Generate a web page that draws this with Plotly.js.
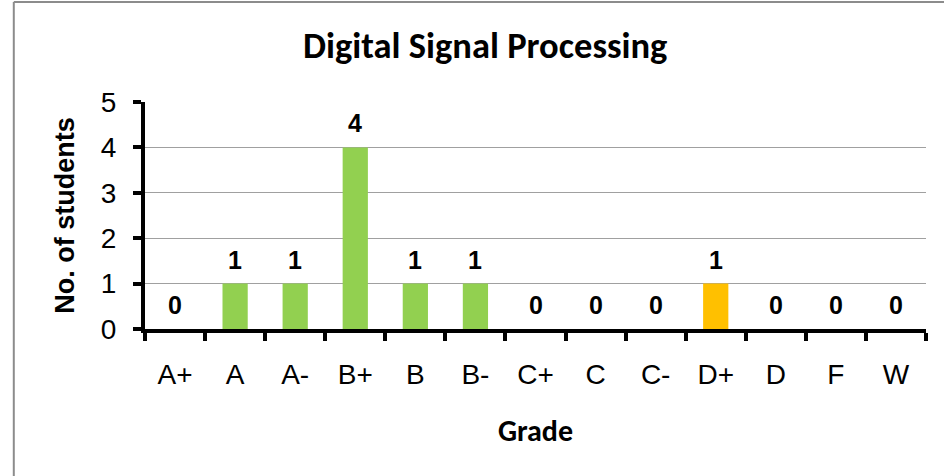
<!DOCTYPE html>
<html>
<head>
<meta charset="utf-8">
<script src="https://cdn.plot.ly/plotly-3.0.1.min.js"></script>
<style>html,body{margin:0;padding:0;background:#fff;}#chart{width:944px;height:476px;}</style>
</head>
<body>
<div id="chart"></div>
<script>
const grades = ["A+","A","A-","B+","B","B-","C+","C","C-","D+","D","F","W"];
const students = [0,1,1,4,1,1,0,0,0,1,0,0,0];
const barColors = ["#92D050","#92D050","#92D050","#92D050","#92D050","#92D050","#92D050","#92D050","#92D050","#FFC000","#92D050","#92D050","#92D050"];
const yTicks = [0,1,2,3,4,5];

const ARIAL = "Arial, Liberation Sans, sans-serif";
const CALIBRI = "Carlito, Lato, sans-serif";

const trace = {
  type: "bar",
  x: grades,
  y: students,
  marker: {color: barColors},
  hoverinfo: "x+y"
};

const labels = grades.map((g, i) => ({
  x: g, y: students[i], xref: "x", yref: "y",
  text: "<b>" + students[i] + "</b>",
  showarrow: false, yanchor: "middle", yshift: 24,
  font: {family: ARIAL, size: 25, color: "#000"}
}));

const layout = {
  width: 944, height: 476,
  margin: {l: 145, r: 18, t: 102, b: 147},
  paper_bgcolor: "#fff", plot_bgcolor: "#fff",
  showlegend: false,
  bargap: 0.58,
  title: {
    text: "<b>Digital Signal Processing</b>",
    font: {family: CALIBRI, size: 36.5, color: "#000"},
    x: 0.514, xanchor: "center", y: 0.904, yanchor: "middle"
  },
  xaxis: {
    type: "category",
    showline: true, linecolor: "#000", linewidth: 4,
    ticks: "outside", ticklen: 8, tickwidth: 4, tickcolor: "#000",
    tickson: "boundaries",
    tickfont: {family: ARIAL, size: 28, color: "#000"},
    ticklabelstandoff: 17,
    showgrid: false, zeroline: false,
    title: {text: "<b>Grade</b>", font: {family: CALIBRI, size: 30, color: "#000"}, standoff: 32}
  },
  yaxis: {
    range: [0, 5],
    tickvals: yTicks,
    ticktext: yTicks.map(String),
    showline: true, linecolor: "#000", linewidth: 4,
    ticks: "outside", ticklen: 8, tickwidth: 4, tickcolor: "#000",
    tickfont: {family: ARIAL, size: 28, color: "#000"},
    ticklabelstandoff: 11,
    showgrid: true, gridcolor: "#a0a0a0", gridwidth: 1,
    zeroline: false,
    title: {text: "<b>No. of students</b>", font: {family: ARIAL, size: 27, color: "#000"}, standoff: 19}
  },
  annotations: labels,
  shapes: [
    {type: "line", xref: "paper", yref: "paper", x0: -0.168, x1: 1.03, y0: 1.441, y1: 1.441, line: {color: "#8c8c8c", width: 2}},
    {type: "line", xref: "paper", yref: "paper", x0: -0.168, x1: -0.168, y0: 1.441, y1: -0.65, line: {color: "#8c8c8c", width: 2}}
  ]
};

Plotly.newPlot("chart", [trace], layout, {displayModeBar: false, staticPlot: true});
</script>
</body>
</html>
